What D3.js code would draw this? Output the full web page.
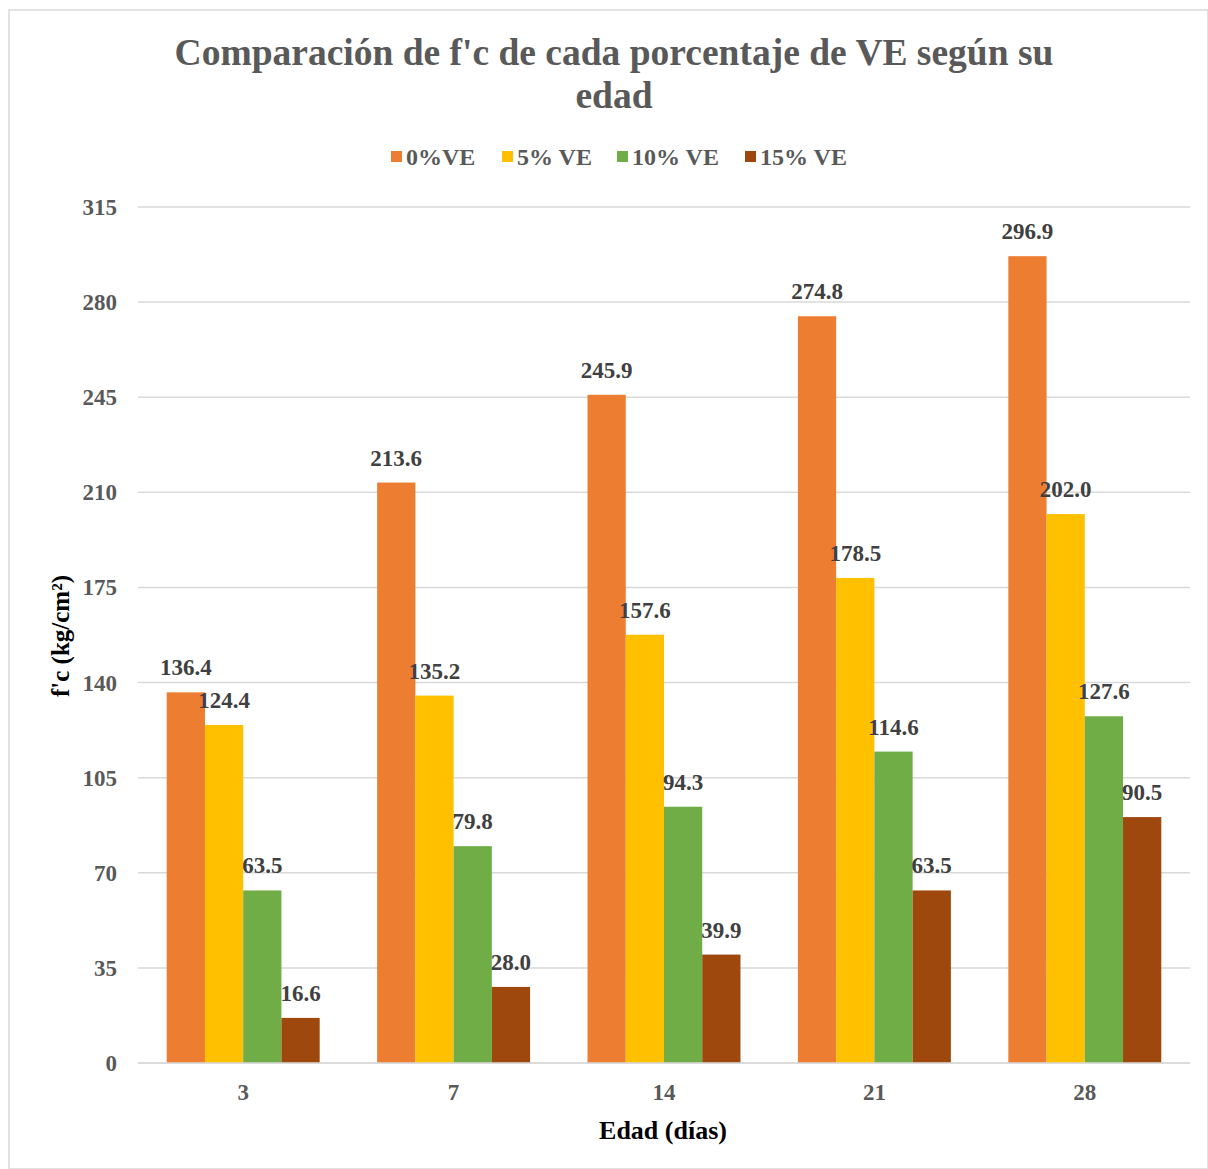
<!DOCTYPE html>
<html>
<head>
<meta charset="utf-8">
<script src="https://cdn.jsdelivr.net/npm/d3@7"></script>
<style>
  body { margin: 0; background: #fff; }
  svg { font-family: "Liberation Serif", "Times New Roman", serif; }
</style>
</head>
<body>
<svg id="chart" width="1208" height="1169"></svg>
<script>
const ages = ["3", "7", "14", "21", "28"];
const seriesNames = ["0%VE", "5% VE", "10% VE", "15% VE"];
const ve0 = [136.4, 213.6, 245.9, 274.8, 296.9];
const ve5 = [124.4, 135.2, 157.6, 178.5, 202.0];
const ve10 = [63.5, 79.8, 94.3, 114.6, 127.6];
const ve15 = [16.6, 28.0, 39.9, 63.5, 90.5];
const yTicks = [0, 35, 70, 105, 140, 175, 210, 245, 280, 315];

const colors = ["#ED7D31", "#FFC000", "#70AD47", "#9E480E"];
const seriesValues = [ve0, ve5, ve10, ve15];

const svg = d3.select("#chart");
const width = 1208, height = 1169;
const margin = { left: 138, right: 18, top: 207, bottom: 106 };

// outer border
svg.append("rect")
    .attr("x", 9).attr("y", 10)
    .attr("width", width - 9).attr("height", height - 10)
    .attr("fill", "#fff")
    .attr("stroke", "#d9d9d9")
    .attr("stroke-width", 1.5);

const x0 = d3.scaleBand()
    .domain(ages)
    .range([margin.left, width - margin.right]);

const gap = x0.bandwidth() * 0.273;
const x1 = d3.scaleBand()
    .domain(seriesNames)
    .range([gap / 2, x0.bandwidth() - gap / 2]);

const y = d3.scaleLinear()
    .domain([0, 315])
    .range([height - margin.bottom, margin.top]);

// gridlines
svg.append("g")
    .selectAll("line")
    .data(yTicks)
    .enter()
    .append("line")
    .attr("x1", margin.left)
    .attr("x2", width - margin.right)
    .attr("y1", d => y(d))
    .attr("y2", d => y(d))
    .attr("stroke", "#d9d9d9")
    .attr("stroke-width", 1.5);

// y tick labels
svg.append("g")
    .selectAll("text")
    .data(yTicks)
    .enter()
    .append("text")
    .attr("x", 117)
    .attr("y", d => y(d))
    .attr("dy", "0.35em")
    .attr("text-anchor", "end")
    .attr("font-size", "23px")
    .attr("font-weight", "bold")
    .attr("fill", "#595959")
    .text(d => d);

// bars
const rows = ages.map((a, i) => ({
    age: a,
    vals: seriesNames.map((s, j) => ({ name: s, value: seriesValues[j][i], color: colors[j] }))
}));

const groups = svg.append("g")
    .selectAll("g")
    .data(rows)
    .enter()
    .append("g")
    .attr("transform", d => `translate(${x0(d.age)},0)`);

groups.selectAll("rect")
    .data(d => d.vals)
    .enter()
    .append("rect")
    .attr("x", d => x1(d.name))
    .attr("width", x1.bandwidth())
    .attr("y", d => y(d.value))
    .attr("height", d => y(0) - y(d.value))
    .attr("fill", d => d.color);

groups.selectAll("text")
    .data(d => d.vals)
    .enter()
    .append("text")
    .attr("x", d => x1(d.name) + x1.bandwidth() / 2)
    .attr("y", d => y(d.value) - 17)
    .attr("text-anchor", "middle")
    .attr("font-size", "23px")
    .attr("font-weight", "bold")
    .attr("fill", "#404040")
    .text(d => d.value.toFixed(1));

// x axis line
svg.append("line")
    .attr("x1", margin.left)
    .attr("x2", width - margin.right)
    .attr("y1", y(0))
    .attr("y2", y(0))
    .attr("stroke", "#d9d9d9")
    .attr("stroke-width", 1.5);

// x tick labels
svg.append("g")
    .selectAll("text")
    .data(ages)
    .enter()
    .append("text")
    .attr("x", d => x0(d) + x0.bandwidth() / 2)
    .attr("y", 1100)
    .attr("text-anchor", "middle")
    .attr("font-size", "23px")
    .attr("font-weight", "bold")
    .attr("fill", "#595959")
    .text(d => d);

// axis titles
svg.append("text")
    .attr("x", 663)
    .attr("y", 1139)
    .attr("text-anchor", "middle")
    .attr("font-size", "26px")
    .attr("font-weight", "bold")
    .attr("fill", "#000")
    .text("Edad (días)");

svg.append("text")
    .attr("transform", "translate(69,636) rotate(-90)")
    .attr("text-anchor", "middle")
    .attr("font-size", "25px")
    .attr("font-weight", "bold")
    .attr("fill", "#000")
    .text("f'c (kg/cm²)");

// title
const title = svg.append("text")
    .attr("text-anchor", "middle")
    .attr("font-size", "37.5px")
    .attr("font-weight", "bold")
    .attr("fill", "#595959");
title.append("tspan").attr("x", 614).attr("y", 65).text("Comparación de f'c de cada porcentaje de VE según su");
title.append("tspan").attr("x", 614).attr("y", 108).text("edad");

// legend
const legendX = [391, 502, 617, 745];
const legend = svg.append("g")
    .selectAll("g")
    .data(seriesNames)
    .enter()
    .append("g")
    .attr("transform", (d, i) => `translate(${legendX[i]},157)`);

legend.append("rect")
    .attr("x", 0).attr("y", -6)
    .attr("width", 11).attr("height", 11)
    .attr("fill", (d, i) => colors[i]);

legend.append("text")
    .attr("x", 15)
    .attr("y", 0)
    .attr("dy", "0.35em")
    .attr("font-size", "24px")
    .attr("font-weight", "bold")
    .attr("fill", "#595959")
    .text(d => d);
</script>
</body>
</html>
